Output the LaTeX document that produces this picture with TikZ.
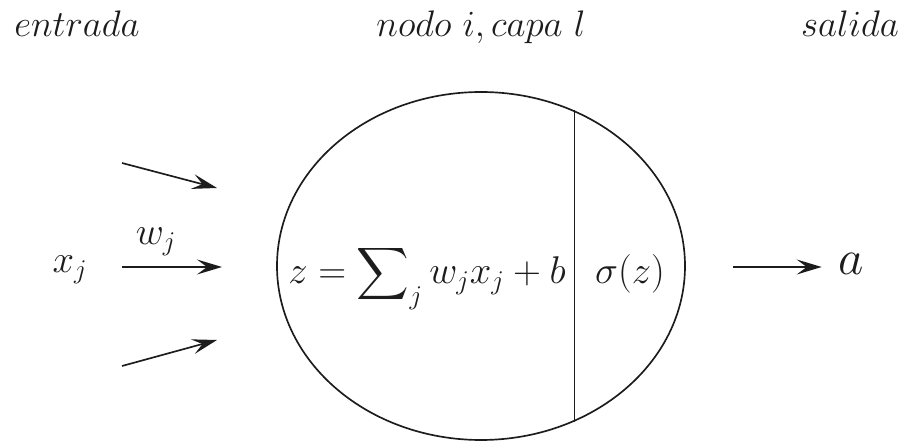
\RequirePackage{fix-cm}
\documentclass[tikz,border=0pt]{standalone}
\usepackage{exscale}
\usetikzlibrary{arrows.meta,shapes.geometric}
\definecolor{ink}{HTML}{1C1C1C}
\tikzset{>={Stealth[length=5mm,width=3mm,inset=2mm]},
  every picture/.style={line width=.95pt},
  every node/.style={text=ink},
  head/.style={anchor=base,font=\fontsize{21}{25}\selectfont},
  eq/.style={anchor=base,font=\fontsize{22}{26}\selectfont,inner sep=2pt},
  wire/.style={->,draw=ink},
  cell/.style={ellipse,draw=ink,minimum width=8.16cm,minimum height=6.96cm,inner sep=0pt}}

\begin{document}
\begin{tikzpicture}
\useasboundingbox (0,0) rectangle (18.12,8.86);
% titles
\node[head] (entrada) at (1.54,8.12) {$entrada$};
\node[head] (nodo) at (9.62,8.12) {$nodo\ i, capa\ l$};
\node[head] (salida) at (17.0,8.12) {$salida$};
% neuron
\node[cell] (neuron) at (9.62,3.54) {};
\draw[ink] (neuron.59.7) -- (neuron.-59.7);
\node[eq] (suma) at (8.54,3.18) {$z=\displaystyle\sum\nolimits_j w_jx_j+b$};
\node[eq] (act) at (12.6,3.18) {$\sigma(z)$};
% inputs
\node[eq] (xj) at (1.4,3.4) {$x_j$};
\node[eq] (wj) at (3.12,3.96) {$w_j$};
\coordinate (s1) at (2.44,5.6);\coordinate (e1) at (4.34,5.1);
\coordinate (s2) at (2.44,3.52);\coordinate (e2) at (4.44,3.52);
\coordinate (s3) at (2.44,1.54);\coordinate (e3) at (4.34,2.06);
\draw[wire] (s1)--(e1);\draw[wire] (s2)--(e2);\draw[wire] (s3)--(e3);
% output
\node[eq,font=\fontsize{28}{32}\selectfont,inner sep=9pt] (a) at (17.02,3.36) {$a$};
\coordinate (o) at (14.66,3.52);
\draw[wire] (o) -- (o -| a.west);
\end{tikzpicture}
\end{document}
